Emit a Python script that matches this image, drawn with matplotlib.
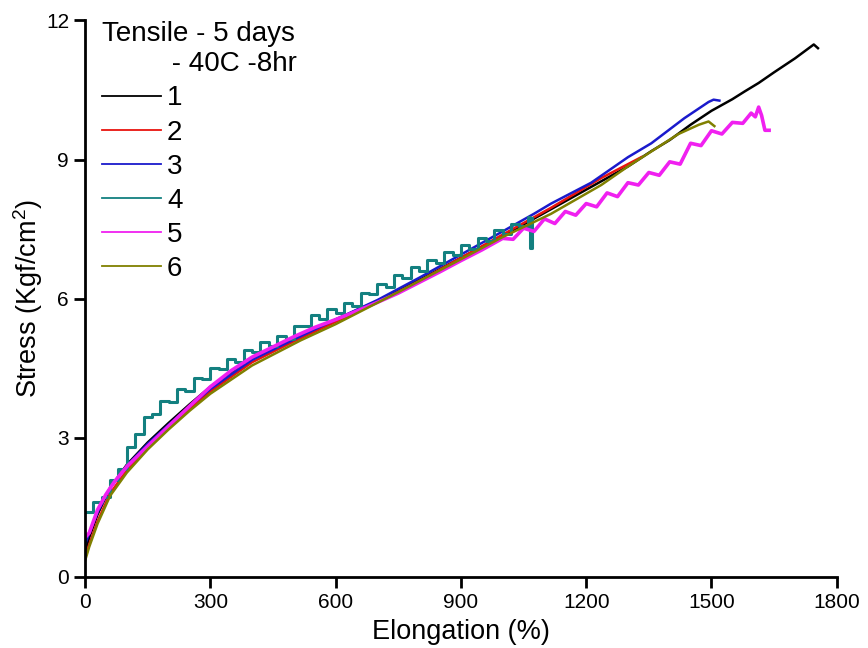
import matplotlib.pyplot as plt

plt.rcParams['font.family'] = ['Liberation Sans', 'DejaVu Sans']
plt.rcParams['mathtext.default'] = 'regular'

# sample 1 (black)
x1 = [0, 10, 30, 60, 100, 150, 200, 250, 300, 350, 400, 500, 600, 700, 800, 900, 1000,
      1100, 1200, 1300, 1356, 1400, 1450, 1500, 1550, 1580, 1613, 1650, 1700, 1730, 1745, 1755]
y1 = [0.55, 0.85, 1.35, 1.92, 2.42, 2.9, 3.32, 3.72, 4.1, 4.42, 4.72, 5.15, 5.55, 5.95, 6.4, 6.88, 7.35,
      7.85, 8.35, 8.85, 9.18, 9.42, 9.75, 10.05, 10.3, 10.47, 10.65, 10.88, 11.18, 11.38, 11.48, 11.4]

# sample 2 (red)
x2 = [0, 10, 30, 60, 100, 150, 200, 250, 300, 400, 500, 600, 700, 800, 900, 1000, 1116, 1236, 1332]
y2 = [0.4, 0.7, 1.2, 1.8, 2.3, 2.8, 3.22, 3.62, 4.0, 4.63, 5.08, 5.5, 5.92, 6.38, 6.88, 7.38, 7.96, 8.6, 9.05]

# sample 3 (blue)
x3 = [0, 10, 30, 60, 100, 150, 200, 250, 300, 400, 500, 600, 700, 800, 900, 1000, 1075,
      1116, 1212, 1300, 1356, 1435, 1493, 1505, 1519]
y3 = [0.7, 0.95, 1.4, 1.92, 2.4, 2.87, 3.28, 3.68, 4.05, 4.68, 5.12, 5.55, 5.97, 6.45, 6.95, 7.45, 7.83,
      8.05, 8.5, 9.05, 9.35, 9.89, 10.24, 10.29, 10.27]

# sample 4 (teal)
x4 = [0, 20, 40, 60, 80, 100, 120, 140, 160, 180, 200, 220, 240, 260, 280, 300, 320, 340, 360, 380,
      400, 420, 440, 460, 480, 500, 520, 540, 560, 580, 600, 620, 640, 660, 680, 700, 720, 740, 760,
      780, 800, 820, 840, 860, 880, 900, 920, 940, 960, 980, 1000, 1020, 1040, 1060, 1065, 1070]
y4 = [1.40, 1.62, 1.72, 2.10, 2.32, 2.80, 3.08, 3.45, 3.52, 3.80, 3.78, 4.06, 4.02, 4.30, 4.26, 4.50,
      4.48, 4.70, 4.64, 4.90, 4.86, 5.06, 4.98, 5.20, 5.14, 5.42, 5.40, 5.64, 5.56, 5.78, 5.70, 5.90,
      5.84, 6.12, 6.10, 6.32, 6.26, 6.50, 6.44, 6.68, 6.60, 6.84, 6.76, 7.00, 6.94, 7.16, 7.08, 7.30,
      7.24, 7.48, 7.40, 7.62, 7.56, 7.76, 7.10, 7.74]

# sample 5 (magenta)
x5 = [0, 10, 30, 50, 70, 100, 150, 200, 250, 300, 350, 400, 450, 500, 550, 600, 650, 700, 750, 800,
      850, 900, 950, 1000, 1025, 1050, 1075, 1100, 1125, 1150, 1175, 1200, 1225, 1250, 1275, 1300,
      1325, 1350, 1375, 1400, 1425, 1450, 1475, 1500, 1525, 1550, 1575, 1595, 1605, 1613, 1620, 1628, 1638]
y5 = [0.85, 0.95, 1.45, 1.78, 2.05, 2.38, 2.82, 3.25, 3.68, 4.1, 4.45, 4.74, 4.96, 5.18, 5.38, 5.55,
      5.73, 5.92, 6.12, 6.35, 6.58, 6.82, 7.05, 7.30, 7.28, 7.52, 7.45, 7.72, 7.62, 7.88, 7.80, 8.05,
      7.98, 8.28, 8.20, 8.50, 8.45, 8.72, 8.66, 8.95, 8.90, 9.35, 9.30, 9.62, 9.55, 9.80, 9.78, 10.0,
      9.92, 10.13, 9.95, 9.63, 9.63]

# sample 6 (olive)
x6 = [0, 10, 30, 60, 100, 150, 200, 250, 300, 400, 516, 600, 756, 900, 996, 1116, 1236, 1300,
      1421, 1470, 1493, 1507]
y6 = [0.35, 0.65, 1.15, 1.75, 2.25, 2.75, 3.18, 3.58, 3.95, 4.56, 5.1, 5.45, 6.17, 6.85, 7.31, 7.83,
      8.45, 8.85, 9.55, 9.75, 9.82, 9.72]

labels = ['1', '2', '3', '4', '5', '6']
colours = ['#000000', '#e8140e', '#1a1acc', '#138080', '#f020f0', '#808000']

fig = plt.figure(figsize=(8.68, 6.48), dpi=100)
ax = fig.add_axes([0.098, 0.1096, 0.866, 0.859])

series = [(x1, y1), (x2, y2), (x3, y3), (x4, y4), (x5, y5), (x6, y6)]
for (xs, ys), lab, col in zip(series, labels, colours):
    if lab == '4':
        ax.plot(xs, ys, color=col, lw=2.2, label=lab, drawstyle='steps-post')
    elif lab == '5':
        ax.plot(xs, ys, color=col, lw=2.6, label=lab)
    else:
        ax.plot(xs, ys, color=col, lw=1.8, label=lab)

ax.set_xlim(0, 1800)
ax.set_ylim(0, 12)
ax.set_xticks([0, 300, 600, 900, 1200, 1500, 1800])
ax.set_yticks([0, 3, 6, 9, 12])
for s in ['top', 'right']:
    ax.spines[s].set_visible(False)
for s in ['left', 'bottom']:
    ax.spines[s].set_linewidth(2)
ax.tick_params(direction='out', length=8, width=2, labelsize=15)
ax.set_xlabel('Elongation (%)', fontsize=19.5, labelpad=5)
ax.set_ylabel('Stress (Kgf/cm$^2$)', fontsize=19.5, labelpad=1)

leg = ax.legend(title='Tensile - 5 days\n         - 40C -8hr', loc='upper left',
                bbox_to_anchor=(0.0, 1.028), frameon=False, fontsize=20, title_fontsize=20,
                handlelength=2.15, handletextpad=0.2, labelspacing=0.29, alignment='left',
                borderaxespad=0.2)
for h in leg.get_lines():
    h.set_linewidth(1.3)

fig.savefig('out.png', dpi=100)
